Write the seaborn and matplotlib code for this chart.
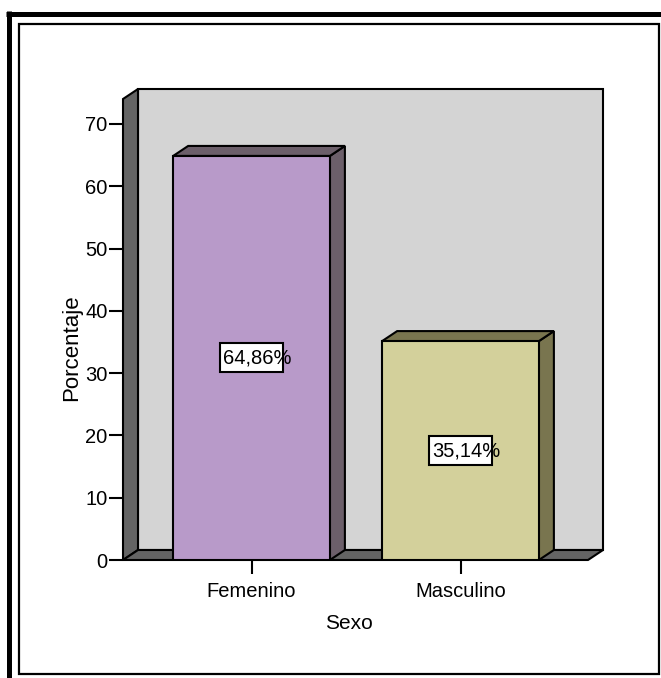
import matplotlib
matplotlib.use("Agg")
import matplotlib.pyplot as plt
from matplotlib.patches import Polygon, Rectangle
from matplotlib.lines import Line2D
import pandas as pd
import seaborn as sns

# Data
categories = ["Femenino", "Masculino"]
percentages = [64.86, 35.14]
value_labels = ["64,86%", "35,14%"]
yticks = [0, 10, 20, 30, 40, 50, 60, 70]

# Styles
front_colors = ["#b89ac9", "#d3d09b"]
shade_colors = ["#6c5f6a", "#79754f"]
wall_color = "#d4d4d4"
side_wall_color = "#646464"
FS = 14.5

W, H, DPI = 661, 678, 100
sns.set_theme(style="white")
plt.rcParams["font.family"] = ["Liberation Sans", "DejaVu Sans"]

fig = plt.figure(figsize=(W / DPI, H / DPI), dpi=DPI)
fig.patch.set_facecolor("white")


def fx(px):
    return px / W


def fy(py):
    return 1 - py / H


# Front plane of the 3D box (pixel extents)
ax_l, ax_r, ax_b, ax_t = 123, 588, 560, 99
ax = fig.add_axes([fx(ax_l), fy(ax_b), (ax_r - ax_l) / W, (ax_b - ax_t) / H])
ax.set_facecolor("none")

df = pd.DataFrame({"Sexo": categories, "Porcentaje": percentages})
sns.barplot(data=df, x="Sexo", y="Porcentaje", hue="Sexo", palette=front_colors,
            saturation=1, width=0.75, edgecolor="black", linewidth=1.5,
            legend=False, ax=ax, zorder=3)

x0, x1 = -0.615, 1.61
y0, y1 = 0, 74
ax.set_xlim(x0, x1)
ax.set_ylim(y0, y1)
for s in ax.spines.values():
    s.set_visible(False)

# depth of the 3D effect, converted from pixels to data units
ux = (x1 - x0) / (ax_r - ax_l)
uy = (y1 - y0) / (ax_b - ax_t)
dx, dy = 15 * ux, 10 * uy

# walls and floor
ax.add_patch(Rectangle((x0 + dx, y0 + dy), x1 - x0, y1 - y0, facecolor=wall_color,
                       edgecolor="black", linewidth=1.5, clip_on=False, zorder=0.5))
ax.add_patch(Polygon([(x0, y0), (x0, y1), (x0 + dx, y1 + dy), (x0 + dx, y0 + dy)],
                     closed=True, facecolor=side_wall_color, edgecolor="black",
                     linewidth=1.5, clip_on=False, zorder=0.6))
ax.add_patch(Polygon([(x0, y0), (x1, y0), (x1 + dx, y0 + dy), (x0 + dx, y0 + dy)],
                     closed=True, facecolor=side_wall_color, edgecolor="black",
                     linewidth=1.5, clip_on=False, zorder=0.6))

# side and top faces of each bar, plus value labels
bars = [p for p in ax.patches if isinstance(p, Rectangle) and p.get_zorder() == 3]
for bar, shade, label in zip(bars, shade_colors, value_labels):
    bx0 = bar.get_x()
    bx1 = bx0 + bar.get_width()
    h = bar.get_height()
    ax.add_patch(Polygon([(bx1, 0), (bx1, h), (bx1 + dx, h + dy), (bx1 + dx, dy)],
                         closed=True, facecolor=shade, edgecolor="black",
                         linewidth=1.5, clip_on=False, zorder=2.5))
    ax.add_patch(Polygon([(bx0, h), (bx1, h), (bx1 + dx, h + dy), (bx0 + dx, h + dy)],
                         closed=True, facecolor=shade, edgecolor="black",
                         linewidth=1.5, clip_on=False, zorder=2.5))
    cx = (bx0 + bx1) / 2
    bw, bh = 63 * ux, 29 * uy
    ax.add_patch(Rectangle((cx - bw / 2, h / 2 - bh / 2), bw, bh, facecolor="white",
                           edgecolor="black", linewidth=1.5, zorder=4))
    ax.text(cx - bw / 2 + 3 * ux, h / 2, label, ha="left", va="center",
            fontsize=FS, color="black", zorder=5)

# axes, ticks, labels
ax.set_yticks(yticks)
ax.set_yticklabels([str(v) for v in yticks])
ax.tick_params(axis="y", left=True, direction="out", length=10, width=1.5,
               pad=1, color="black", labelsize=FS, labelcolor="black")
ax.tick_params(axis="x", bottom=True, direction="out", length=10, width=1.5,
               pad=6, color="black", labelsize=FS, labelcolor="black")
ax.set_xlabel("Sexo", fontsize=15, color="black")
ax.set_ylabel("Porcentaje", fontsize=16, color="black")
ax.xaxis.set_label_coords(0.486, -0.118)
ax.yaxis.set_label_coords(-0.088, 0.46)

# frames around the figure
fig.add_artist(Line2D([fx(6), fx(661)], [fy(13.5), fy(13.5)], transform=fig.transFigure,
                      color="black", linewidth=3.6, solid_capstyle="butt"))
fig.add_artist(Line2D([fx(8.5), fx(8.5)], [fy(11), fy(678)], transform=fig.transFigure,
                      color="black", linewidth=3.6, solid_capstyle="butt"))
fig.add_artist(Rectangle((fx(19), fy(674)), (658.5 - 19) / W, (674 - 24) / H,
                         transform=fig.transFigure, fill=False, edgecolor="black",
                         linewidth=1.6))

fig.savefig("out.png", dpi=DPI)
